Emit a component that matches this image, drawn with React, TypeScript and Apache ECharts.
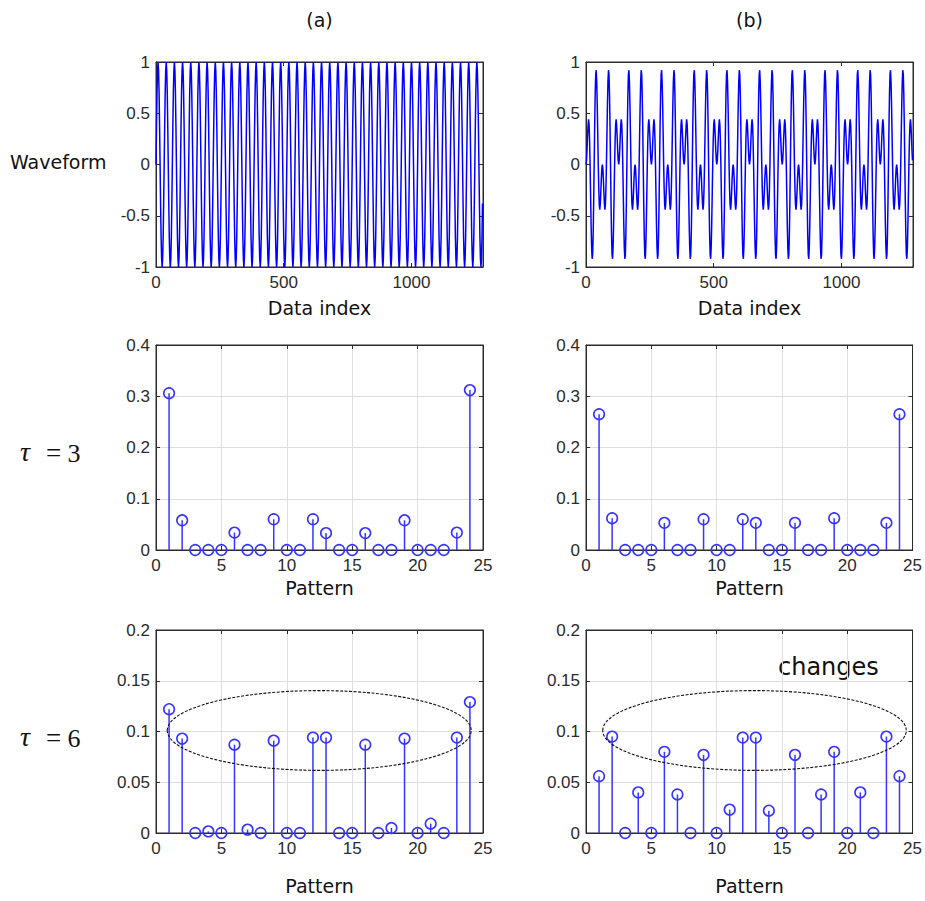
import React, { useEffect, useRef } from "react";
import * as echarts from "echarts";

const WAVE_STEP = 2;
const WAVE_LENGTH = 1280;
const periodA = [0, 0.38, 0.71, 0.92, 1, 0.92, 0.71, 0.38, 0, -0.38, -0.71, -0.92, -1, -0.92, -0.71, -0.38];
const periodB = [
  0, 0.04, 0.14, 0.27, 0.38, 0.44, 0.39, 0.24,
  0, -0.3, -0.59, -0.81, -0.92, -0.88, -0.69, -0.38,
  0, 0.38, 0.69, 0.88, 0.92, 0.81, 0.59, 0.3,
  0, -0.24, -0.39, -0.44, -0.38, -0.27, -0.14, -0.04,
  0, -0.04, -0.14, -0.27, -0.38, -0.44, -0.39, -0.24,
  0, 0.3, 0.59, 0.81, 0.92, 0.88, 0.69, 0.38,
  0, -0.38, -0.69, -0.88, -0.92, -0.81, -0.59, -0.3,
  0, 0.24, 0.39, 0.44, 0.38, 0.27, 0.14, 0.04,
];

// ---- ordinal pattern probabilities ----
const patterns = Array.from({ length: 24 }, (_, i) => i + 1);
const tau3A = [0.306, 0.058, 0, 0, 0, 0.034, 0, 0, 0.06, 0, 0, 0.06, 0.033, 0, 0, 0.033, 0, 0, 0.058, 0, 0, 0, 0.034, 0.312];
const tau3B = [0.265, 0.062, 0, 0, 0, 0.053, 0, 0, 0.06, 0, 0, 0.06, 0.053, 0, 0, 0.053, 0, 0, 0.062, 0, 0, 0, 0.053, 0.265];
const tau6A = [0.122, 0.093, 0, 0.0016, 0, 0.087, 0.0033, 0, 0.091, 0, 0, 0.094, 0.094, 0, 0, 0.087, 0, 0.0049, 0.093, 0, 0.0092, 0, 0.094, 0.129];
const tau6B = [0.056, 0.095, 0, 0.04, 0, 0.08, 0.038, 0, 0.077, 0, 0.023, 0.094, 0.094, 0.022, 0, 0.077, 0, 0.038, 0.08, 0, 0.04, 0, 0.095, 0.056];

// annotation ellipses [centerX, centerY, radiusX, radiusY] in data units
const ellipseA = [12.48, 0.101, 11.62, 0.0393];
const ellipseB = [12.9, 0.101, 11.62, 0.0393];

// axis ranges / tick steps
const waveX = { min: 0, max: 1280, interval: 500 };
const waveY = { min: -1, max: 1, interval: 0.5 };
const patX = { min: 0, max: 25, interval: 5 };
const tau3Y = { min: 0, max: 0.4, interval: 0.1 };
const tau6Y = { min: 0, max: 0.2, interval: 0.05 };

const columnLabels = ["(a)", "(b)"];
const rowTitle = "Waveform";

function tile(period: number[], step: number, length: number) {
  const out: number[][] = [];
  for (let n = 0; n < length; n += step) out.push([n, period[(n / step) % period.length]]);
  return out;
}

const AX = "#2b2b2b";
const LABEL_FONT = "Liberation Sans";
const TITLE_FONT = "DejaVu Sans";
const STEM = "#3535ff";

export default function App() {
  const ref = useRef<HTMLDivElement>(null);
  useEffect(() => {
    if (!ref.current) return;
    const chart = echarts.init(ref.current, undefined, { renderer: "svg" });

    const L = [156, 586];
    const W = 327;
    const rows = [
      { top: 62, height: 205 },
      { top: 345, height: 205 },
      { top: 630, height: 203 },
    ];
    const grids: any[] = [];
    const xAxes: any[] = [];
    const yAxes: any[] = [];
    const series: any[] = [];
    const fmt = (v: number) => String(Math.round(v * 1000) / 1000);

    const addAxes = (gi: number, xc: any, yc: any, showGrid: boolean, hideMaxX: boolean) => {
      const tick = { show: true, inside: true, length: 4, lineStyle: { color: AX, width: 1 } };
      const line = { show: true, onZero: false, lineStyle: { color: AX, width: 1 } };
      const lab = { color: "#2b2b2b", fontSize: 17, fontFamily: LABEL_FONT, formatter: fmt };
      xAxes.push({
        gridIndex: gi, type: "value", position: "bottom", ...xc,
        axisLine: line, axisTick: tick,
        axisLabel: { ...lab, margin: 7, showMaxLabel: !hideMaxX },
        splitLine: { show: showGrid, lineStyle: { color: "#dedede", width: 1 } },
      });
      xAxes.push({
        gridIndex: gi, type: "value", position: "top", ...xc,
        axisLine: line, axisTick: tick, axisLabel: { show: false }, splitLine: { show: false },
      });
      yAxes.push({
        gridIndex: gi, type: "value", position: "left", ...yc,
        axisLine: line, axisTick: tick,
        axisLabel: { ...lab, margin: 6 },
        splitLine: { show: showGrid, lineStyle: { color: "#dedede", width: 1 } },
      });
      yAxes.push({
        gridIndex: gi, type: "value", position: "right", ...yc,
        axisLine: line, axisTick: tick, axisLabel: { show: false }, splitLine: { show: false },
      });
    };

    const stemSeries = (gi: number, values: number[]) => ({
      type: "custom",
      xAxisIndex: gi * 2,
      yAxisIndex: gi * 2,
      clip: false,
      data: patterns.map((p, i) => [p, values[i]]),
      renderItem: (_p: any, api: any) => {
        const x = api.value(0);
        const y = api.value(1);
        const p0 = api.coord([x, 0]);
        const p1 = api.coord([x, y]);
        return {
          type: "group",
          children: [
            { type: "line", shape: { x1: p0[0], y1: p0[1], x2: p1[0], y2: p1[1] }, style: { stroke: STEM, lineWidth: 1.5 } },
            { type: "circle", shape: { cx: p1[0], cy: p1[1], r: 5.3 }, style: { fill: "none", stroke: STEM, lineWidth: 1.6 } },
          ],
        };
      },
    });

    const ellipseSeries = (gi: number, e: number[]) => ({
      type: "custom",
      xAxisIndex: gi * 2,
      yAxisIndex: gi * 2,
      clip: false,
      data: [e],
      renderItem: (_p: any, api: any) => {
        const c = api.coord([api.value(0), api.value(1)]);
        const s = api.size([api.value(2), api.value(3)]);
        return {
          type: "ellipse",
          shape: { cx: c[0], cy: c[1], rx: s[0], ry: s[1] },
          style: { fill: "none", stroke: "#111", lineWidth: 1.1, lineDash: [3, 1.5] },
          z2: 10,
        };
      },
    });

    let gi = 0;
    rows.forEach((r, ri) => {
      L.forEach((left, ci) => {
        grids.push({ left, top: r.top, width: W, height: r.height, show: true, borderColor: AX, borderWidth: 1, backgroundColor: "#fff" });
        if (ri === 0) {
          addAxes(gi, waveX, waveY, false, true);
          series.push({
            type: "line",
            xAxisIndex: gi * 2,
            yAxisIndex: gi * 2,
            showSymbol: false,
            clip: true,
            data: tile(ci === 0 ? periodA : periodB, WAVE_STEP, WAVE_LENGTH),
            lineStyle: { color: "#0000ff", width: 1.5 },
          });
        } else if (ri === 1) {
          addAxes(gi, patX, tau3Y, true, false);
          series.push(stemSeries(gi, ci === 0 ? tau3A : tau3B));
        } else {
          addAxes(gi, patX, tau6Y, true, false);
          series.push(stemSeries(gi, ci === 0 ? tau6A : tau6B));
          series.push(ellipseSeries(gi, ci === 0 ? ellipseA : ellipseB));
        }
        gi++;
      });
    });

    const centers = [L[0] + W / 2, L[1] + W / 2];
    const txt = (text: string, x: number, y: number, font: string, align = "center") => ({
      type: "text",
      x,
      y,
      style: { text, font, fill: "#111", align, verticalAlign: "middle" },
    });
    const titleFont = `19px "${TITLE_FONT}"`;
    const graphic: any[] = [
      txt(columnLabels[0], centers[0], 20, titleFont),
      txt(columnLabels[1], centers[1], 20, titleFont),
      txt("Data index", centers[0], 308, titleFont),
      txt("Data index", centers[1], 308, titleFont),
      txt("Pattern", centers[0], 588, titleFont),
      txt("Pattern", centers[1], 588, titleFont),
      txt("Pattern", centers[0], 886, titleFont),
      txt("Pattern", centers[1], 886, titleFont),
      txt(rowTitle, 10, 162, titleFont, "left"),
      txt("τ", 20, 451, 'italic 28px "Liberation Serif"', "left"),
      txt("=", 53.5, 453, '27px "Liberation Serif"'),
      txt("3", 74, 453, '26px "Liberation Serif"'),
      txt("τ", 20, 736, 'italic 28px "Liberation Serif"', "left"),
      txt("=", 53.5, 738, '27px "Liberation Serif"'),
      txt("6", 74, 738, '26px "Liberation Serif"'),
      txt("changes", 778, 667, `24px "${TITLE_FONT}"`, "left"),
    ];

    chart.setOption({
      animation: false,
      backgroundColor: "#fff",
      grid: grids,
      xAxis: xAxes,
      yAxis: yAxes,
      series,
      graphic,
    });
    return () => chart.dispose();
  }, []);

  return (
    <div
      ref={ref}
      style={{ position: "fixed", left: 0, top: 0, width: 925, height: 901, background: "#fff" }}
    />
  );
}
